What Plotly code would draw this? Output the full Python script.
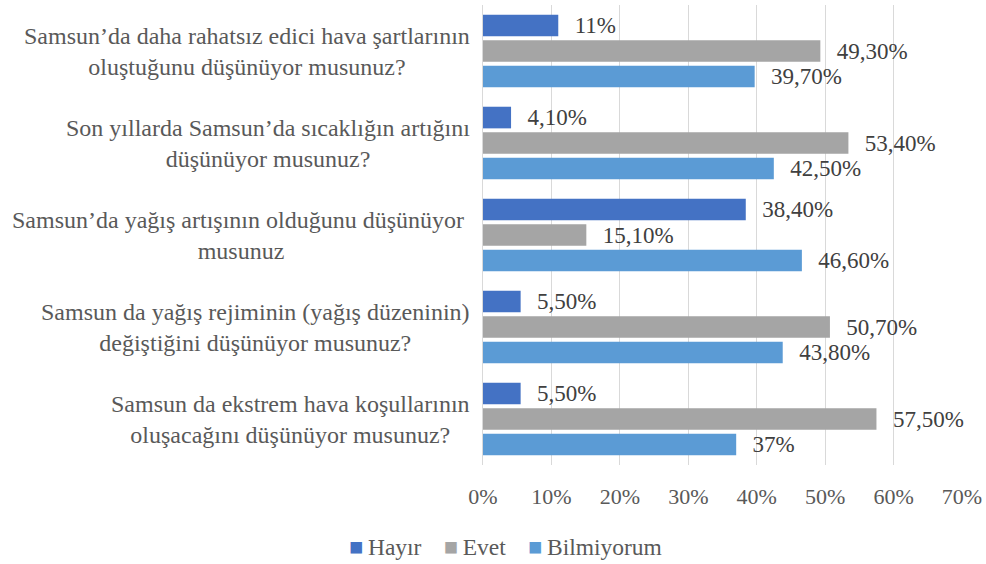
import plotly.graph_objects as go

# questions, top to bottom
questions = [
    "Samsun’da daha rahatsız edici hava şartlarının<br>oluştuğunu düşünüyor musunuz?",
    "Son yıllarda Samsun’da sıcaklığın artığını<br>düşünüyor musunuz?",
    "Samsun’da yağış artışının olduğunu düşünüyor\u00a0<br>musunuz",
    "Samsun da yağış rejiminin (yağış düzeninin)<br>değiştiğini düşünüyor musunuz?",
    "Samsun da ekstrem hava koşullarının<br>oluşacağını düşünüyor musunuz?",
]
cats = ["q1", "q2", "q3", "q4", "q5"]

hayir = [0.11, 0.041, 0.384, 0.055, 0.055]
evet = [0.493, 0.534, 0.151, 0.507, 0.575]
bilmiyorum = [0.397, 0.425, 0.466, 0.438, 0.37]

hayir_lbl = ["11%", "4,10%", "38,40%", "5,50%", "5,50%"]
evet_lbl = ["49,30%", "53,40%", "15,10%", "50,70%", "57,50%"]
bilmiyorum_lbl = ["39,70%", "42,50%", "46,60%", "43,80%", "37%"]

x_ticks = [0, 0.1, 0.2, 0.3, 0.4, 0.5, 0.6, 0.7]
x_ticktext = ["0%", "10%", "20%", "30%", "40%", "50%", "60%", "70%"]

series = [
    ("Hayır", hayir, hayir_lbl, "#4472C4"),
    ("Evet", evet, evet_lbl, "#A5A5A5"),
    ("Bilmiyorum", bilmiyorum, bilmiyorum_lbl, "#5B9BD5"),
]

FONT = "Liberation Serif"
NB = "\u00a0"

fig = go.Figure()
for name, vals, lbls, col in series:
    fig.add_trace(go.Bar(
        y=cats, x=vals, name=name, orientation="h",
        marker=dict(color=col, line=dict(width=0)),
        text=[NB * 2 + "\u200a" + t for t in lbls],
        textposition="outside",
        constraintext="none",
        cliponaxis=False,
        textfont=dict(family=FONT, size=23, color="#404040"),
    ))

# centred, multi-line category labels
for c, q in zip(cats, questions):
    fig.add_annotation(
        x=0, xref="paper", y=c, yref="y", text=q, showarrow=False,
        xanchor="right", xshift=-11, align="center",
        font=dict(family=FONT, size=24, color="#595959"),
    )

# legend drawn as text with coloured squares
legend_txt = (NB * 3 + "\u2009").join(
    f"<span style='color:{col}'>■</span>\u2009{name}" for name, _, _, col in series
)
fig.add_annotation(
    x=0.047, xref="paper", y=0, yref="paper", yshift=-82, text=legend_txt,
    showarrow=False, xanchor="center", yanchor="middle",
    font=dict(family=FONT, size=23.5, color="#595959"),
)

fig.update_layout(
    width=986, height=564,
    margin=dict(l=483, r=24, t=5, b=99),
    paper_bgcolor="white", plot_bgcolor="white",
    barmode="group", bargap=0.17, bargroupgap=0.15,
    font=dict(family=FONT, size=22, color="#595959"),
    showlegend=False,
)

fig.update_xaxes(range=[0, 0.7], tickvals=x_ticks, ticktext=x_ticktext,
                 showgrid=True, gridcolor="#D9D9D9", gridwidth=1,
                 zeroline=False, showline=False, ticks="",
                 ticklabelstandoff=16, automargin=False,
                 tickfont=dict(family=FONT, size=22, color="#595959"))
fig.update_yaxes(autorange="reversed", showticklabels=False,
                 showline=True, linecolor="#D9D9D9", linewidth=1, ticks="")

fig.write_html("out.html", config={"displayModeBar": False},
               post_script="document.body.style.margin='0';")
